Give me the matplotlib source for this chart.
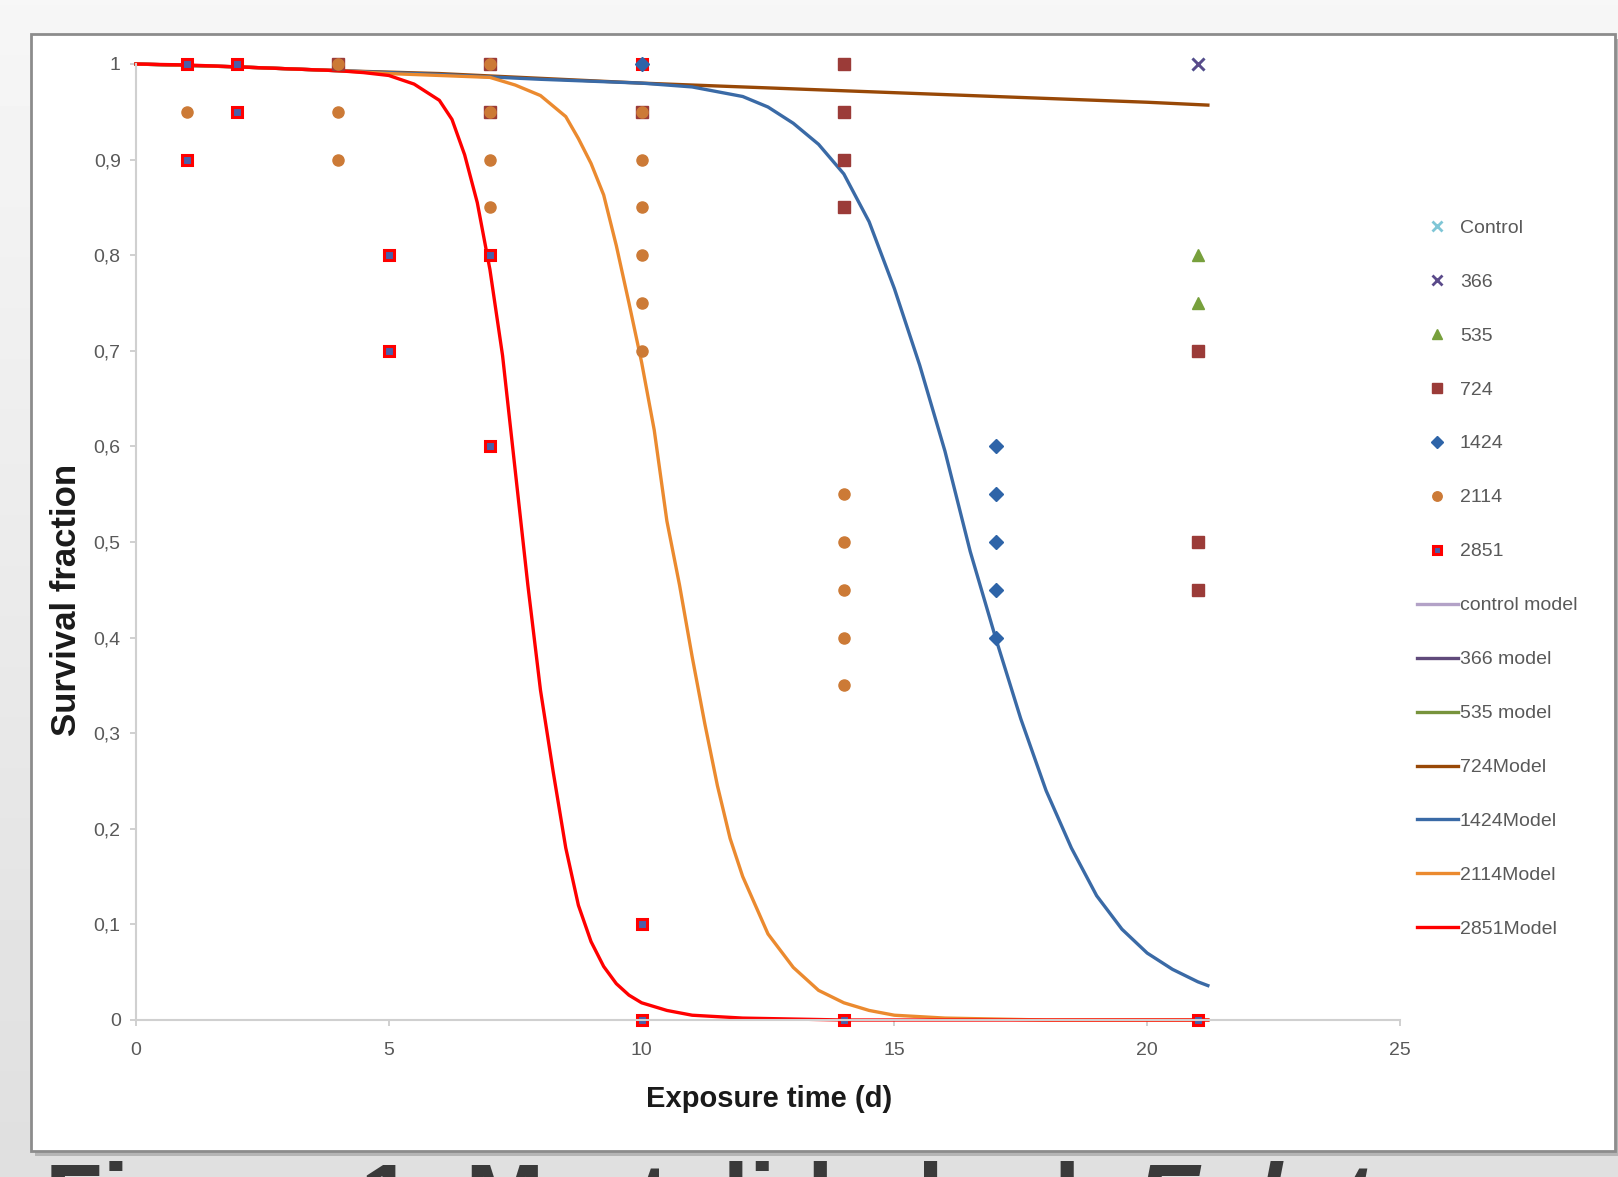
import numpy as np
import matplotlib
matplotlib.use("Agg")
import matplotlib.pyplot as plt
from matplotlib.patches import Rectangle

# observed survival fractions (x = exposure time in days)
ctrl_x, ctrl_y = [21], [1.0]
d366_x, d366_y = [21], [1.0]
d535_x, d535_y = [21, 21], [0.8, 0.75]
d724_x = [4, 7, 7, 10, 14, 14, 14, 14, 21, 21, 21]
d724_y = [1.0, 1.0, 0.95, 0.95, 1.0, 0.95, 0.9, 0.85, 0.7, 0.5, 0.45]
d1424_x = [10, 17, 17, 17, 17, 17]
d1424_y = [1.0, 0.6, 0.55, 0.5, 0.45, 0.4]
d2114_x = [1, 4, 4, 4, 7, 7, 7, 7, 10, 10, 10, 10, 10, 10, 14, 14, 14, 14, 14]
d2114_y = [0.95, 1.0, 0.95, 0.9, 1.0, 0.95, 0.9, 0.85, 0.95, 0.9, 0.85, 0.8,
           0.75, 0.7, 0.55, 0.5, 0.45, 0.4, 0.35]
d2851_x = [1, 1, 2, 2, 5, 5, 7, 7, 10, 10, 10, 14, 21]
d2851_y = [1.0, 0.9, 1.0, 0.95, 0.8, 0.7, 0.8, 0.6, 1.0, 0.1, 0.0, 0.0, 0.0]

# model curves
m724_x = [0, 2, 4, 6, 8, 10, 12, 14, 16, 18, 20, 21.2]
m724_y = [1.0, 0.997, 0.993, 0.99, 0.985, 0.98, 0.976, 0.972, 0.968, 0.964, 0.96, 0.957]

m1424_x = [0, 2, 4, 6, 8, 10, 11, 12, 12.5, 13, 13.5, 14, 14.5, 15, 15.5, 16,
           16.5, 17, 17.5, 18, 18.5, 19, 19.5, 20, 20.5, 21, 21.2]
m1424_y = [1.0, 0.997, 0.993, 0.989, 0.984, 0.98, 0.976, 0.966, 0.955, 0.938,
           0.916, 0.885, 0.835, 0.765, 0.685, 0.595, 0.49, 0.40, 0.315, 0.24,
           0.18, 0.13, 0.095, 0.07, 0.053, 0.04, 0.036]

m2114_x = [0, 2, 4, 5, 6, 7, 7.5, 8, 8.5, 8.75, 9, 9.25, 9.5, 9.75, 10, 10.25,
           10.5, 10.75, 11, 11.25, 11.5, 11.75, 12, 12.5, 13, 13.5, 14, 14.5,
           15, 16, 17, 18, 21.2]
m2114_y = [1.0, 0.997, 0.993, 0.99, 0.988, 0.986, 0.978, 0.967, 0.945, 0.922,
           0.896, 0.863, 0.81, 0.75, 0.688, 0.617, 0.522, 0.455, 0.38, 0.31,
           0.245, 0.19, 0.15, 0.09, 0.055, 0.031, 0.018, 0.01, 0.005, 0.002,
           0.001, 0.0, 0.0]

m2851_x = [0, 1, 2, 3, 4, 4.5, 5, 5.5, 6, 6.25, 6.5, 6.75, 7, 7.25, 7.5, 7.75,
           8, 8.25, 8.5, 8.75, 9, 9.25, 9.5, 9.75, 10, 10.5, 11, 12, 13, 14, 21.2]
m2851_y = [1.0, 0.999, 0.997, 0.995, 0.993, 0.991, 0.988, 0.979, 0.962, 0.942,
           0.905, 0.855, 0.785, 0.695, 0.575, 0.455, 0.345, 0.26, 0.18, 0.12,
           0.082, 0.056, 0.038, 0.026, 0.018, 0.01, 0.005, 0.002, 0.001, 0.0, 0.0]

x_ticks = [0, 5, 10, 15, 20, 25]
y_ticks = [0, 0.1, 0.2, 0.3, 0.4, 0.5, 0.6, 0.7, 0.8, 0.9, 1.0]
y_labels = ["0", "0,1", "0,2", "0,3", "0,4", "0,5", "0,6", "0,7", "0,8", "0,9", "1"]

W, H = 1618, 1177
sans = ["Liberation Sans", "DejaVu Sans"]
grey_txt = "#595959"


def fx(px):
    return px / W


def fy(py):
    return (H - py) / H


fig = plt.figure(figsize=(W / 100, H / 100), dpi=100)

# slide-like grey gradient background
bg = fig.add_axes([0, 0, 1, 1], zorder=-10)
grad = np.linspace(0.965, 0.875, 256).reshape(-1, 1)
bg.imshow(grad, cmap="gray", vmin=0, vmax=1, aspect="auto", extent=[0, 1, 0, 1])
bg.set_axis_off()

# chart frame with shadow
fig.patches.append(Rectangle((fx(35), fy(1156)), fx(1583), 1117 / H,
                             transform=fig.transFigure, facecolor="#b5b5b5",
                             edgecolor="none", zorder=-5))
fig.patches.append(Rectangle((fx(31), fy(1151)), fx(1584), 1117 / H,
                             transform=fig.transFigure, facecolor="white",
                             edgecolor="#8c8c8c", lw=2, zorder=-4))

ax = fig.add_axes([fx(136), fy(1020), fx(1400 - 136), (1020 - 64) / H])
ax.set_facecolor("none")

# model lines
ax.plot([], [], color="#b3a2c7", lw=2.4, label="control model")
ax.plot([], [], color="#604a7b", lw=2.4, label="366 model")
ax.plot([], [], color="#77933c", lw=2.4, label="535 model")
ax.plot(m724_x, m724_y, color="#984807", lw=2.4, label="724Model", clip_on=False)
ax.plot(m1424_x, m1424_y, color="#3a6aa6", lw=2.4, label="1424Model", clip_on=False)
ax.plot(m2114_x, m2114_y, color="#eb8a2f", lw=2.4, label="2114Model", clip_on=False)
ax.plot(m2851_x, m2851_y, color="#ff0000", lw=2.4, label="2851Model", clip_on=False)

# observed points
ms = 8
ax.plot(ctrl_x, ctrl_y, "x", color="#7fc6d6", ms=ms, mew=2, label="Control", clip_on=False)
ax.plot(d366_x, d366_y, "x", color="#5a4a8a", ms=ms, mew=2, label="366", clip_on=False)
ax.plot(d535_x, d535_y, "^", color="#77a03c", ms=ms, label="535", clip_on=False)
ax.plot(d724_x, d724_y, "s", color="#9b3b38", ms=ms, label="724", clip_on=False)
ax.plot(d2851_x, d2851_y, "s", mfc="#4a5fa8", mec="#ff0000", mew=2.2, ms=7.5,
        linestyle="none", label="2851", clip_on=False)
ax.plot(d1424_x, d1424_y, "D", color="#2e64a8", ms=7, label="1424", clip_on=False)
ax.plot(d2114_x, d2114_y, "o", color="#cc7a36", ms=ms, label="2114", clip_on=False)

ax.set_xlim(0, 25)
ax.set_ylim(0, 1)
ax.set_xticks(x_ticks)
ax.set_xticklabels([str(t) for t in x_ticks], family=sans, fontsize=14, color=grey_txt)
ax.set_yticks(y_ticks)
ax.set_yticklabels(y_labels, family=sans, fontsize=14, color=grey_txt)
for s in ["top", "right"]:
    ax.spines[s].set_visible(False)
for s in ["left", "bottom"]:
    ax.spines[s].set_color("#d0d0d0")
    ax.spines[s].set_linewidth(1.5)
ax.tick_params(axis="both", color="#c8c8c8", length=4, width=1.2)
ax.tick_params(axis="x", pad=12)
ax.tick_params(axis="y", pad=7)

fig.text(fx(769), fy(1099), "Exposure time (d)", ha="center", va="center",
         family=sans, fontweight="bold", fontsize=21, color="#1a1a1a")
fig.text(fx(66), fy(600), "Survival fraction", ha="center", va="center",
         rotation=90, family=sans, fontweight="bold", fontsize=25, color="#1a1a1a")

# legend, in the original order
order = ["Control", "366", "535", "724", "1424", "2114", "2851",
         "control model", "366 model", "535 model", "724Model", "1424Model",
         "2114Model", "2851Model"]
hmap = dict(zip(*reversed(ax.get_legend_handles_labels())))
handles = [hmap[k] for k in order]
fig.legend(handles, order, loc="upper left",
           bbox_to_anchor=(fx(1417), fy(219)), frameon=False, borderpad=0,
           borderaxespad=0, handlelength=2.1, handletextpad=0.1,
           labelspacing=1.87, prop={"family": sans, "size": 14},
           labelcolor=grey_txt, markerscale=0.85)

# caption, cut by the bottom edge of the picture as in the original
fig.text(fx(45), fy(1161), "Figure 1. Mortalidade de", ha="left", va="top",
         fontsize=68, fontweight="bold", color="#3a3a3a", family=sans)
fig.text(fx(1135), fy(1161), "Eulota", ha="left", va="top", fontsize=68,
         fontweight="bold", fontstyle="italic", color="#3a3a3a", family=sans)

fig.savefig("out.png", dpi=100)
